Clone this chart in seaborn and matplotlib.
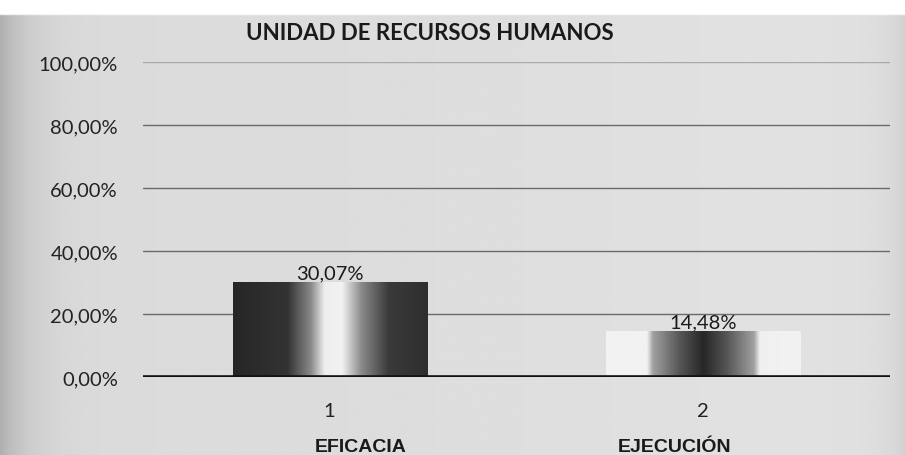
import numpy as np
import pandas as pd
import matplotlib
matplotlib.use("Agg")
import matplotlib.pyplot as plt
from matplotlib.colors import LinearSegmentedColormap
import seaborn as sns

# ---- data ----
tick_labels = ["1", "2"]
categories = ["EFICACIA", "EJECUCIÓN"]
values = [30.07, 14.48]
value_labels = ["30,07%", "14,48%"]
y_ticks = [0, 20, 40, 60, 80, 100]
y_tick_labels = ["0,00%", "20,00%", "40,00%", "60,00%", "80,00%", "100,00%"]
title = "UNIDAD DE RECURSOS HUMANOS"

df = pd.DataFrame({"idx": tick_labels, "value": values})

sns.set_theme(style="white")
plt.rcParams["font.family"] = ["Lato", "DejaVu Sans"]

fig = plt.figure(figsize=(9.05, 4.56), dpi=100)
fig.patch.set_facecolor("#d6d6d6")

# scanned-paper background
bg = fig.add_axes([0, 0, 1, 1], zorder=-10)
xs = np.linspace(0, 1, 400)
row = 0.86 - 0.17 * np.exp(-xs / 0.03) - 0.06 * np.exp(-(1 - xs) / 0.02)
row += 0.02 * np.clip((xs - 0.3) / 0.5, 0, 1)
img = np.tile(row, (200, 1))
ys = np.linspace(1, 0, 200)
img[ys > 0.968] = 1.0
bg.imshow(img, cmap="gray", vmin=0, vmax=1, aspect="auto", extent=[0, 1, 0, 1])
bg.set_axis_off()

ax = fig.add_axes([0.158, 0.171, 0.825, 0.691])
ax.set_facecolor("none")
sns.barplot(data=df, x="idx", y="value", ax=ax, width=0.52, color="#555555",
            saturation=1, edgecolor="none", zorder=3)

ax.set_ylim(0, 100)
ax.set_xlim(-0.5, 1.5)
ax.set_yticks(y_ticks)
ax.set_yticklabels(y_tick_labels)
ax.tick_params(axis="y", length=0, labelsize=14.5, colors="#222222", pad=18)
ax.tick_params(axis="x", length=0, labelsize=14.5, colors="#222222", pad=18)
ax.set_xlabel("")
ax.set_ylabel("")
for s in ax.spines.values():
    s.set_visible(False)
for t in y_ticks[1:]:
    ax.axhline(t, color="#a8a8a8" if t == 100 else "#6a6a6a", lw=1.0, zorder=1)
ax.axhline(0, color="#111111", lw=2.6, zorder=5)

# gradient fills
cmap1 = LinearSegmentedColormap.from_list("g1", [
    (0.0, "#262626"), (0.28, "#333333"), (0.40, "#8a8a8a"), (0.47, "#eeeeee"),
    (0.56, "#f2f2f2"), (0.66, "#8a8a8a"), (0.80, "#3a3a3a"), (1.0, "#2e2e2e")])
cmap2 = LinearSegmentedColormap.from_list("g2", [
    (0.0, "#f2f2f2"), (0.21, "#f2f2f2"), (0.24, "#a0a0a0"), (0.38, "#555555"),
    (0.50, "#262626"), (0.62, "#555555"), (0.76, "#a0a0a0"), (0.79, "#f0f0f0"),
    (1.0, "#f2f2f2")])
grad = np.linspace(0, 1, 256).reshape(1, -1)
for patch, cm in zip(ax.patches, [cmap1, cmap2]):
    x0, y0 = patch.get_x(), patch.get_y()
    w, h = patch.get_width(), patch.get_height()
    im = ax.imshow(grad, cmap=cm, aspect="auto", extent=[x0, x0 + w, y0, y0 + h],
                   zorder=4, interpolation="bicubic")
    im.set_clip_path(patch)
    patch.set_alpha(0)

ax.set_xlim(-0.5, 1.5)
ax.set_ylim(0, 100)

for patch, lab in zip(ax.patches, value_labels):
    ax.text(patch.get_x() + patch.get_width() / 2, patch.get_height() + 0.2, lab,
            ha="center", va="bottom", fontsize=14.5, color="#1a1a1a", zorder=6)

cat_offsets = [0.083, -0.075]
for i, (c, off) in enumerate(zip(categories, cat_offsets)):
    ax.text(i + off, -0.22, c, transform=ax.get_xaxis_transform(), ha="center",
            va="center", fontsize=14, fontweight="bold", color="#1a1a1a",
            family=["Liberation Sans", "DejaVu Sans"])

fig.text(0.475, 0.926, title, ha="center", va="center", fontsize=16,
         fontweight="bold", color="#1a1a1a")

fig.savefig("out.png", dpi=100)
